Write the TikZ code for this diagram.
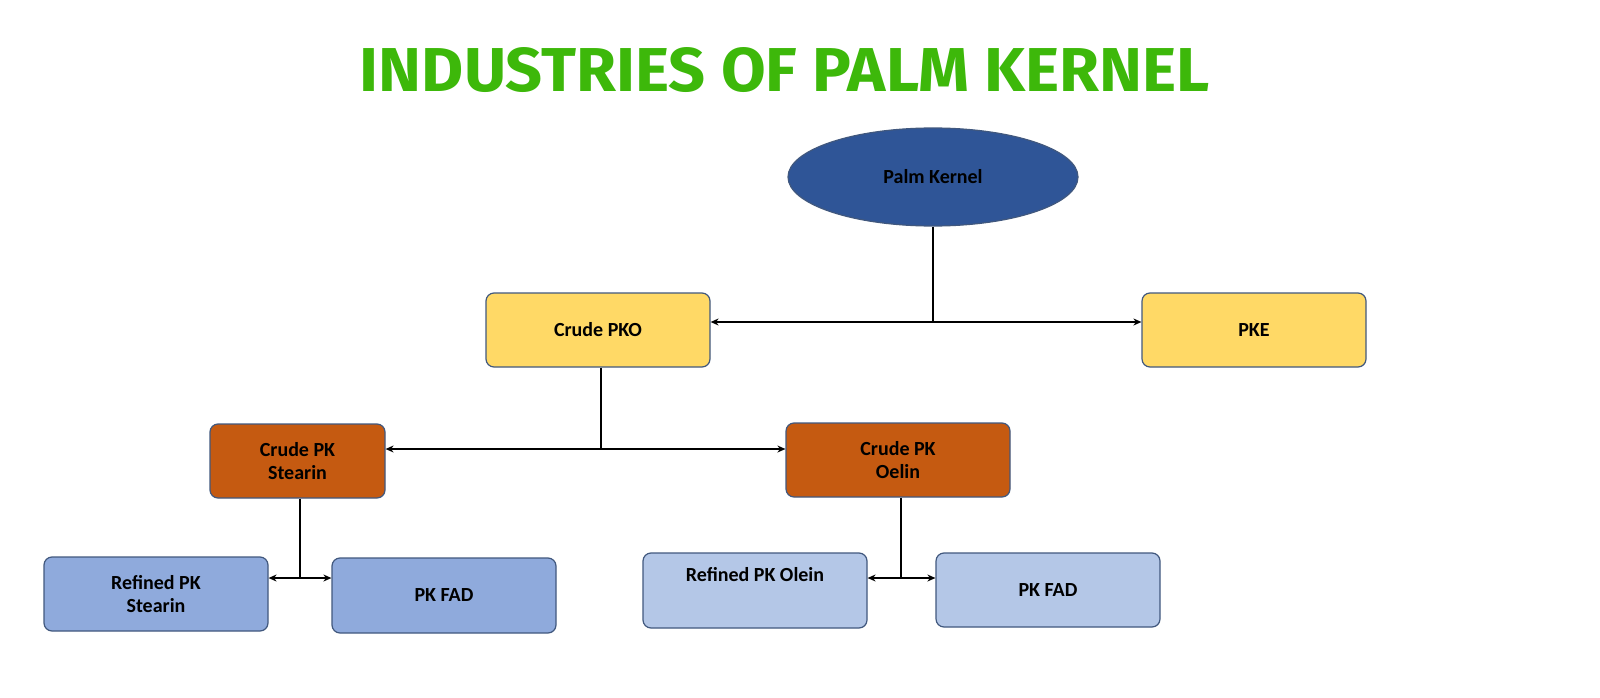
\documentclass[tikz,border=0pt]{standalone}
\usepackage{fontspec}
\setmainfont{Carlito}
\newfontfamily\titlefont{Fira Sans}
\usetikzlibrary{shapes.geometric,arrows.meta}
\definecolor{ybox}{HTML}{FFD966}
\definecolor{obox}{HTML}{C55A11}
\definecolor{bbox}{HTML}{8FAADC}
\definecolor{lbox}{HTML}{B4C7E7}
\definecolor{ell}{HTML}{2F5597}
\definecolor{edge}{HTML}{41587E}
\definecolor{tgreen}{HTML}{3DB80A}
\begin{document}
\begin{tikzpicture}[x=1pt,y=-1pt,
  box/.style={draw=edge,line width=1.2pt,rounded corners=8pt,minimum width=224pt,minimum height=74pt,align=center,font=\fontsize{20}{23}\selectfont\bfseries,inner sep=2pt},
  con/.style={line width=1.6pt},
  arr/.style={line width=1.6pt,{Stealth[length=8pt,width=7pt]}-{Stealth[length=8pt,width=7pt]}}]
\useasboundingbox (0,0) rectangle (1600,698);
\clip (0,0) rectangle (1600,698);
\fill[white] (0,0) rectangle (1600,698);
\node[text=tgreen,font=\titlefont\fontsize{50}{56}\selectfont\bfseries] (title) at (785,70) {\resizebox{850pt}{44pt}{INDUSTRIES OF PALM KERNEL}};
\node[ellipse,fill=ell,draw=edge,line width=1.2pt,minimum width=290pt,minimum height=98pt,font=\fontsize{20}{23}\selectfont\bfseries] (pk) at (933,177) {Palm Kernel};
\node[box,fill=ybox] (pko) at (598,330) {Crude PKO};
\node[box,fill=ybox] (pke) at (1254,330) {PKE};
\node[box,fill=obox,minimum width=175pt] (st) at (297.5,461) {Crude PK\\Stearin};
\node[box,fill=obox] (ol) at (898,460) {Crude PK\\Oelin};
\node[box,fill=bbox] (rst) at (156,594) {Refined PK\\Stearin};
\node[box,fill=bbox,minimum height=75pt] (fad1) at (444,595.5) {PK FAD};
\node[box,fill=lbox,minimum height=75pt] (rol) at (755,590.5) {};
\node[font=\fontsize{20}{23}\selectfont\bfseries] (roltxt) at (755,575) {Refined PK Olein};
\node[box,fill=lbox] (fad2) at (1048,590) {PK FAD};
\coordinate (j1) at (933,322);
\coordinate (j2) at (601,449);
\coordinate (j3) at (300,578);
\coordinate (j4) at (901,578);
\draw[con] (pk.south) -- (j1);
\draw[arr] (pko.east |- j1) -- (pke.west |- j1);
\draw[con] (j2 |- pko.south) -- (j2);
\draw[arr] (st.east |- j2) -- (ol.west |- j2);
\draw[con] (j3 |- st.south) -- (j3);
\draw[arr] (rst.east |- j3) -- (fad1.west |- j3);
\draw[con] (j4 |- ol.south) -- (j4);
\draw[arr] (rol.east |- j4) -- (fad2.west |- j4);
\end{tikzpicture}
\end{document}
